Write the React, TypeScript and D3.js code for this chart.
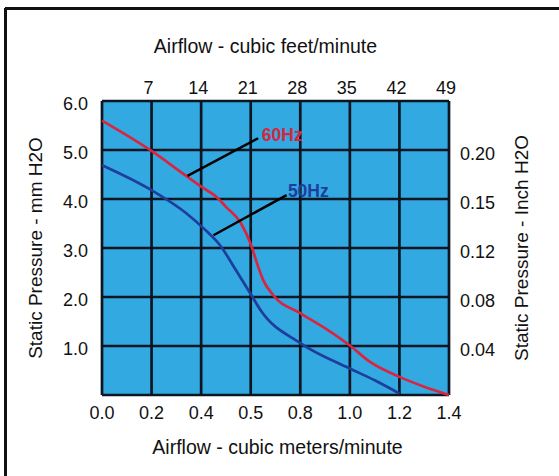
import React from "react";
import * as d3 from "d3";

// airflow in m3/min, pressure in mm H2O
const flow60 = [0, 0.2, 0.34, 0.41, 0.46, 0.5, 0.56, 0.6, 0.63, 0.65, 0.69, 0.8, 0.91, 1.0, 1.08, 1.2, 1.3, 1.4];
const press60 = [5.6, 4.98, 4.47, 4.22, 4.05, 3.84, 3.51, 3.08, 2.62, 2.35, 2.04, 1.67, 1.33, 1.01, 0.68, 0.37, 0.17, 0];
const flow50 = [0, 0.2, 0.34, 0.41, 0.48, 0.54, 0.6, 0.64, 0.8, 1.0, 1.1, 1.2];
const press50 = [4.69, 4.18, 3.71, 3.4, 3.03, 2.55, 2.06, 1.73, 1.06, 0.54, 0.3, 0.03];

const xTicks = [0, 0.2, 0.4, 0.6, 0.8, 1.0, 1.2, 1.4];
const xTickLabels = ["0.0", "0.2", "0.4", "0.5", "0.8", "1.0", "1.2", "1.4"];
const cfmLabels = ["7", "14", "21", "28", "35", "42", "49"];
const yTicks = [0, 1, 2, 3, 4, 5, 6];
const yTickLabels = ["", "1.0", "2.0", "3.0", "4.0", "5.0", "6.0"];
const inchLabels = ["", "0.04", "0.08", "0.12", "0.15", "0.20"];

const W = 559, H = 476;
const m = { left: 102, top: 101, right: 449, bottom: 395 };
const font = "'Liberation Sans', Arial, sans-serif";

export default function App() {
  const x = d3.scaleLinear().domain([0, 1.4]).range([m.left, m.right]);
  const y = d3.scaleLinear().domain([0, 6]).range([m.bottom, m.top]);
  const line = d3.line<[number, number]>().x(d => x(d[0])).y(d => y(d[1])).curve(d3.curveMonotoneX);
  const d60 = line(flow60.map((f, i) => [f, press60[i]]) as [number, number][]);
  const d50 = line(flow50.map((f, i) => [f, press50[i]]) as [number, number][]);
  const grid = "#0b1622";

  return (
    <svg width={W} height={H} style={{ position: "absolute", left: 0, top: 0 }} fontFamily={font} fill="#111">
      <rect x={0} y={0} width={W} height={H} fill="#fff" />
      <line x1={5} y1={8.5} x2={W} y2={8.5} stroke="#111" strokeWidth={3} />
      <line x1={5.5} y1={8} x2={5.5} y2={H} stroke="#111" strokeWidth={3} />

      <rect x={m.left} y={m.top} width={m.right - m.left} height={m.bottom - m.top} fill="#33a9e1" />
      {xTicks.map((t, i) => (
        <line key={"gx" + i} x1={x(t)} x2={x(t)} y1={m.top} y2={m.bottom} stroke={grid} strokeWidth={2.7} />
      ))}
      {yTicks.map((t, i) => (
        <line key={"gy" + i} y1={y(t)} y2={y(t)} x1={m.left} x2={m.right} stroke={grid} strokeWidth={2.7} />
      ))}

      <path d={d60 || ""} fill="none" stroke="#d9253f" strokeWidth={2.7} />
      <path d={d50 || ""} fill="none" stroke="#1e3d9c" strokeWidth={2.7} />

      <line x1={x(0.345)} y1={y(4.47)} x2={x(0.63)} y2={y(5.24)} stroke="#000" strokeWidth={2.5} />
      <text x={x(0.645)} y={y(5.3)} dy="0.35em" fill="#d9253f" fontWeight="bold" fontSize={17.5}>60Hz</text>
      <line x1={x(0.45)} y1={y(3.26)} x2={x(0.745)} y2={y(4.08)} stroke="#000" strokeWidth={2.5} />
      <text x={x(0.75)} y={y(4.17)} dy="0.35em" fill="#1e3d9c" fontWeight="bold" fontSize={17.5}>50Hz</text>

      {xTicks.map((t, i) => (
        <text key={"xl" + i} x={x(t)} y={413} textAnchor="middle" dy="0.35em" fontSize={18}>{xTickLabels[i]}</text>
      ))}
      {cfmLabels.map((l, i) => (
        <text key={"cl" + i} x={x(xTicks[i + 1]) - 3} y={88} textAnchor="middle" dy="0.35em" fontSize={18}>{l}</text>
      ))}
      {yTicks.map((t, i) => (
        <text key={"yl" + i} x={88} y={y(t) + 3} textAnchor="end" dy="0.35em" fontSize={18}>{yTickLabels[i]}</text>
      ))}
      {inchLabels.map((l, i) => (
        <text key={"il" + i} x={460} y={y(yTicks[i]) + 4} dy="0.35em" fontSize={18}>{l}</text>
      ))}

      <text x={(m.left + m.right) / 2 - 10} y={46} textAnchor="middle" dy="0.35em" fontSize={19.5}>Airflow - cubic feet/minute</text>
      <text x={(m.left + m.right) / 2 + 2} y={447} textAnchor="middle" dy="0.35em" fontSize={19.5}>Airflow - cubic meters/minute</text>
      <text transform={`translate(35,${(m.top + m.bottom) / 2}) rotate(-90)`} textAnchor="middle" dy="0.35em" fontSize={19}>Static Pressure - mm H2O</text>
      <text transform={`translate(521,${(m.top + m.bottom) / 2}) rotate(-90)`} textAnchor="middle" dy="0.35em" fontSize={19}>Static Pressure - Inch H2O</text>
    </svg>
  );
}
